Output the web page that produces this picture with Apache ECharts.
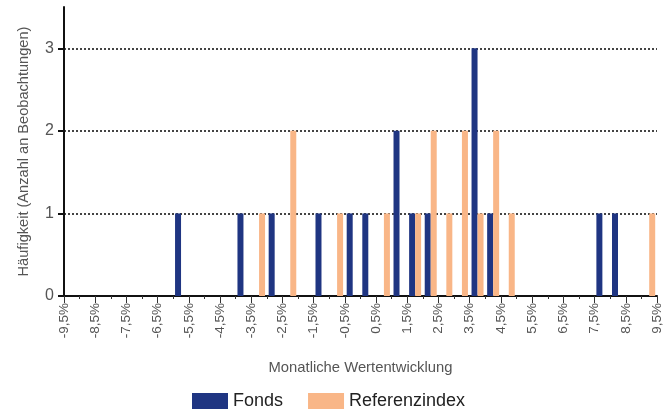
<!DOCTYPE html>
<html>
<head>
<meta charset="utf-8">
<script src="https://cdn.jsdelivr.net/npm/echarts@6/dist/echarts.min.js"></script>
<style>html,body{margin:0;padding:0;background:#fff}#c{width:672px;height:412px}</style>
</head>
<body>
<div id="c"></div>
<script>
// Bin centres (0.5 % wide bins from -9.5 % to 9.5 %)
const binCenters = [-9.25,-8.75,-8.25,-7.75,-7.25,-6.75,-6.25,-5.75,-5.25,-4.75,-4.25,-3.75,-3.25,-2.75,-2.25,-1.75,-1.25,-0.75,-0.25,
                    0.25,0.75,1.25,1.75,2.25,2.75,3.25,3.75,4.25,4.75,5.25,5.75,6.25,6.75,7.25,7.75,8.25,8.75,9.25];
const fonds      = [0,0,0,0,0,0,0,1,0,0,0,1,0,1,0,0,1,0,1, 1,0,2,1,1,0,0,3,1,0,0,0,0,0,0,1,1,0,0];
const referenz   = [0,0,0,0,0,0,0,0,0,0,0,0,1,0,2,0,0,1,0, 0,1,0,1,2,1,2,1,2,1,0,0,0,0,0,0,0,0,1];
// Tick labels on the x axis
const xLabelValues = [-9.5,-8.5,-7.5,-6.5,-5.5,-4.5,-3.5,-2.5,-1.5,-0.5,0.5,1.5,2.5,3.5,4.5,5.5,6.5,7.5,8.5,9.5];
const yTickValues = [0,1,2,3];
const seriesNames = ['Fonds','Referenzindex'];

const FONT = 'Liberation Sans, Arial, sans-serif';
const chart = echarts.init(document.getElementById('c'), null, {renderer:'canvas'});
const pairs = (vals) => binCenters.map((x,i)=>[x, vals[i]]).filter(p => p[1] > 0);
const fmtPct = v => (v<0?'-':'') + Math.abs(v).toFixed(1).replace('.', ',') + '%';

chart.setOption({
  animation:false,
  textStyle:{fontFamily:FONT},
  grid:{left:64, right:15, top:7, bottom:116, containLabel:false},
  legend:{
    data:seriesNames, bottom:-3, left:187, itemWidth:36, itemHeight:16, itemGap:25,
    icon:'rect',
    textStyle:{fontSize:18, color:'#222', fontFamily:FONT, padding:[0,0,0,0]}
  },
  xAxis:[{
    type:'value', min:-9.5, max:9.5, interval:0.5,
    axisLine:{show:true, onZero:false, lineStyle:{color:'#111', width:2}},
    axisTick:{show:true, length:3, lineStyle:{color:'#333', width:1}},
    axisLabel:{show:false},
    splitLine:{show:false}
  },{
    type:'value', min:-9.5, max:9.5, interval:0.5, position:'bottom', offset:0,
    axisLine:{show:false, onZero:false},
    axisTick:{show:true, length:7, customValues:xLabelValues, lineStyle:{color:'#333', width:1}},
    axisLabel:{show:true, customValues:xLabelValues, rotate:90, margin:7, fontSize:13.5, color:'#555', fontFamily:FONT, formatter:fmtPct},
    splitLine:{show:false},
    name:'Monatliche Wertentwicklung', nameLocation:'middle', nameGap:64,
    nameTextStyle:{fontSize:14.8, color:'#555', fontFamily:FONT}
  }],
  yAxis:{
    type:'value', min:0, max:3.5, interval:1,
    axisLine:{show:true, onZero:false, lineStyle:{color:'#111', width:2}},
    axisTick:{show:true, length:6, customValues:yTickValues, lineStyle:{color:'#111', width:2}},
    axisLabel:{customValues:yTickValues, fontSize:16, color:'#555', margin:10, fontFamily:FONT},
    splitLine:{show:true, showMinLine:false, showMaxLine:true, lineStyle:{color:'#444', width:2, type:[2,2]}},
    name:'Häufigkeit (Anzahl an Beobachtungen)', nameLocation:'middle', nameGap:33,
    nameTextStyle:{fontSize:14.6, color:'#555', fontFamily:FONT}
  },
  series:[
    {name:seriesNames[0], type:'bar', xAxisIndex:0, data:pairs(fonds), barWidth:6, barGap:'0%', itemStyle:{color:'#1f3582'}},
    {name:seriesNames[1], type:'bar', xAxisIndex:0, data:pairs(referenz), barWidth:6, barGap:'0%', itemStyle:{color:'#f9b687'}}
  ]
});
</script>
</body>
</html>
